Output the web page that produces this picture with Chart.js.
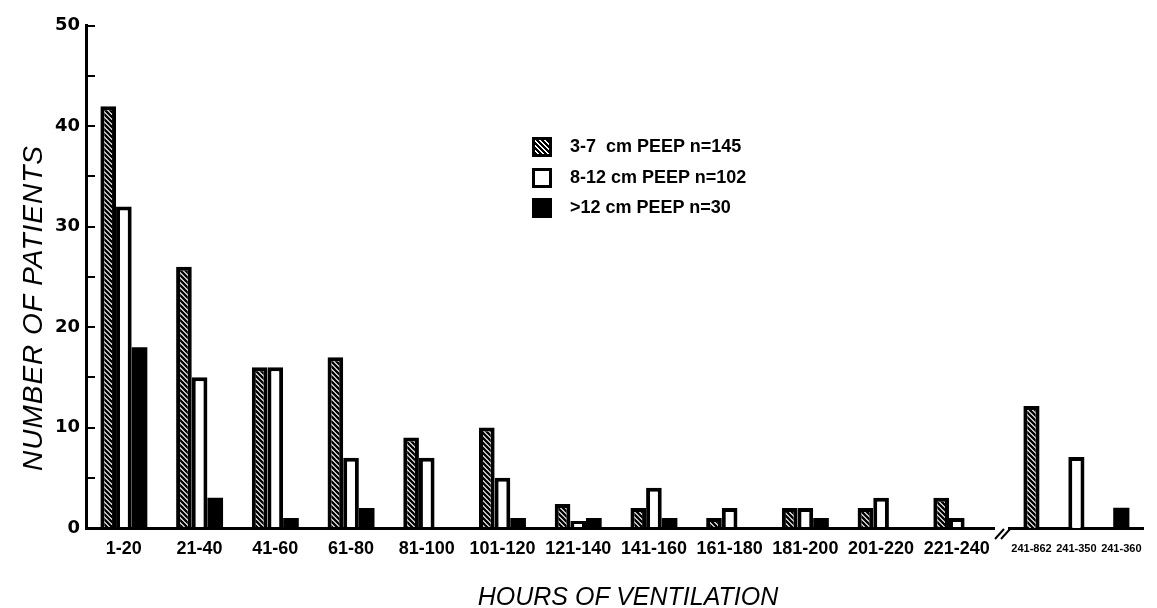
<!DOCTYPE html>
<html>
<head>
<meta charset="utf-8">
<title>Hours of ventilation by PEEP level</title>
<script src="https://cdn.jsdelivr.net/npm/chart.js@4.4.1/dist/chart.umd.min.js"></script>
<style>
  html, body { margin: 0; padding: 0; background: #fff; }
  #wrap { position: relative; width: 1157px; height: 608px; overflow: hidden; background: #fff; }
  #boxMain { position: absolute; left: 0; top: 0; width: 1000px; height: 608px; }
  #boxTail { position: absolute; left: 990px; top: 0; width: 167px; height: 608px; }
  .axis-title { position: absolute; white-space: nowrap; color: #000;
    font-family: "Liberation Sans", Arial, sans-serif; font-style: italic; }
  #yTitle { left: 33px; top: 308px; font-size: 28px; letter-spacing: 1px;
    transform: translate(-50%, -50%) rotate(-90deg); }
  #xTitle { left: 628px; top: 596px; font-size: 25px; transform: translate(-50%, -50%); }
  #legend { position: absolute; left: 532px; top: 137px; }
  .row { position: relative; height: 30.5px; }
  .swatch { position: absolute; left: 0; top: 0; width: 14px; height: 14px; border: 3px solid #000; background: #fff; }
  .swatch.hatch { background: repeating-linear-gradient(45deg, #000 0 2px, #fff 2px 3.5px); }
  .swatch.solid { background: #000; }
  .row span { position: absolute; left: 38px; top: -1px; white-space: pre; color: #000;
    font: bold 18px "Liberation Sans", Arial, sans-serif; }
</style>
</head>
<body>
<div id="wrap">
  <div id="boxMain"><canvas id="mainCanvas"></canvas></div>
  <div id="boxTail"><canvas id="tailCanvas"></canvas></div>
  <div id="yTitle" class="axis-title">NUMBER OF PATIENTS</div>
  <div id="xTitle" class="axis-title">HOURS OF VENTILATION</div>
  <div id="legend"></div>
</div>
<script>
// hours-of-ventilation bins; the last three sit after the axis break
const categories = ["1-20", "21-40", "41-60", "61-80", "81-100", "101-120", "121-140",
  "141-160", "161-180", "181-200", "201-220", "221-240", "241-862", "241-350", "241-360"];
const seriesNames = ["3-7  cm PEEP n=145", "8-12 cm PEEP n=102", ">12 cm PEEP n=30"];

// number of patients per bin
const peepLow  = [42, 26, 16, 17, 9, 10, 2.4, 2, 1, 2, 2, 3, 12, null, null];
const peepMid  = [32, 15, 16, 7, 7, 5, 0.7, 4, 2, 2, 3, 1, null, 7, null];
const peepHigh = [18, 3, 1, 2, 0, 1, 1, 1, 0, 1, 0, 0, null, null, 2];

const yLabels = [0, 10, 20, 30, 40, 50];
const nMain = 12;

const tickFont = { family: '"Liberation Sans", Arial, sans-serif', weight: "bold" };

function makeHatch() {
  const s = 5;
  const c = document.createElement("canvas");
  c.width = s;
  c.height = s;
  const g = c.getContext("2d");
  g.fillStyle = "#fff";
  g.fillRect(0, 0, s, s);
  g.strokeStyle = "#000";
  g.lineWidth = 2.4;
  g.lineCap = "square";
  g.beginPath();
  for (const k of [-s, 0, s]) {
    g.moveTo(k, 0);
    g.lineTo(k + s, s);
  }
  g.stroke();
  return g.createPattern(c, "repeat");
}

const hatch = makeHatch();
const fills = [hatch, "#fff", "#000"];
const borders = [4, 4, 0]; // solid black bars need no outline
const series = [peepLow, peepMid, peepHigh];

function buildSets(from, to) {
  return series.map((vals, i) => ({
    label: seriesNames[i],
    data: vals.slice(from, to),
    backgroundColor: fills[i],
    borderColor: "#000",
    borderWidth: borders[i],
  }));
}

// legend (html)
const legendEl = document.getElementById("legend");
seriesNames.forEach((name, i) => {
  const row = document.createElement("div");
  row.className = "row";
  const sw = document.createElement("div");
  sw.className = "swatch" + (i === 0 ? " hatch" : i === 2 ? " solid" : "");
  const txt = document.createElement("span");
  txt.textContent = name;
  row.appendChild(sw);
  row.appendChild(txt);
  legendEl.appendChild(row);
});

const common = {
  responsive: true,
  maintainAspectRatio: false,
  animation: false,
  events: [],
  plugins: { legend: { display: false }, tooltip: { enabled: false } },
};

/* ===== main part: 1-20 ... 221-240 ===== */
new Chart(document.getElementById("mainCanvas"), {
  type: "bar",
  data: { labels: categories.slice(0, nMain), datasets: buildSets(0, nMain) },
  options: {
    ...common,
    layout: { padding: { top: 20, right: 4, bottom: 40, left: 0 } },
    datasets: { bar: { categoryPercentage: 0.62, barPercentage: 1 } },
    scales: {
      x: {
        grid: { display: false, drawTicks: false },
        border: { display: true, color: "#000", width: 3 },
        ticks: { color: "#000", font: { ...tickFont, size: 18 }, padding: 10, maxRotation: 0, autoSkip: false },
        afterFit: (s) => { s.height = 40; },
      },
      y: {
        min: 0,
        max: 50,
        ticks: {
          stepSize: 5,
          color: "#000",
          padding: 15,
          font: { family: '"DejaVu Sans", sans-serif', weight: "bold", size: 18 },
          callback: (v) => (yLabels.includes(v) ? String(v) : ""),
        },
        grid: { drawOnChartArea: false, tickLength: -9, lineWidth: 2, color: "#000" },
        border: { display: true, color: "#000", width: 3 },
        afterFit: (s) => { s.width = 86; },
      },
    },
  },
});

/* ===== part after the axis break ===== */
const breakMark = {
  id: "breakMark",
  afterDraw(chart) {
    const { ctx, chartArea } = chart;
    const x = chartArea.left - 9;
    const y = chartArea.bottom + 7;
    ctx.save();
    ctx.strokeStyle = "#000";
    ctx.lineWidth = 2;
    for (const dx of [0, 6]) {
      ctx.beginPath();
      ctx.moveTo(x + dx - 5, y + 4);
      ctx.lineTo(x + dx + 4, y - 6);
      ctx.stroke();
    }
    ctx.restore();
  },
};

new Chart(document.getElementById("tailCanvas"), {
  type: "bar",
  data: { labels: categories.slice(nMain), datasets: buildSets(nMain) },
  plugins: [breakMark],
  options: {
    ...common,
    layout: { padding: { top: 20, right: 9, bottom: 40, left: 19 } },
    datasets: { bar: { grouped: false, categoryPercentage: 1, barPercentage: 0.36 } },
    scales: {
      x: {
        grid: { display: false, drawTicks: false },
        border: { display: true, color: "#000", width: 3 },
        ticks: { color: "#000", font: { ...tickFont, size: 11 }, padding: 14, maxRotation: 0, autoSkip: false },
        afterFit: (s) => { s.height = 40; },
      },
      y: { display: false, min: 0, max: 50 },
    },
  },
});
</script>
</body>
</html>
